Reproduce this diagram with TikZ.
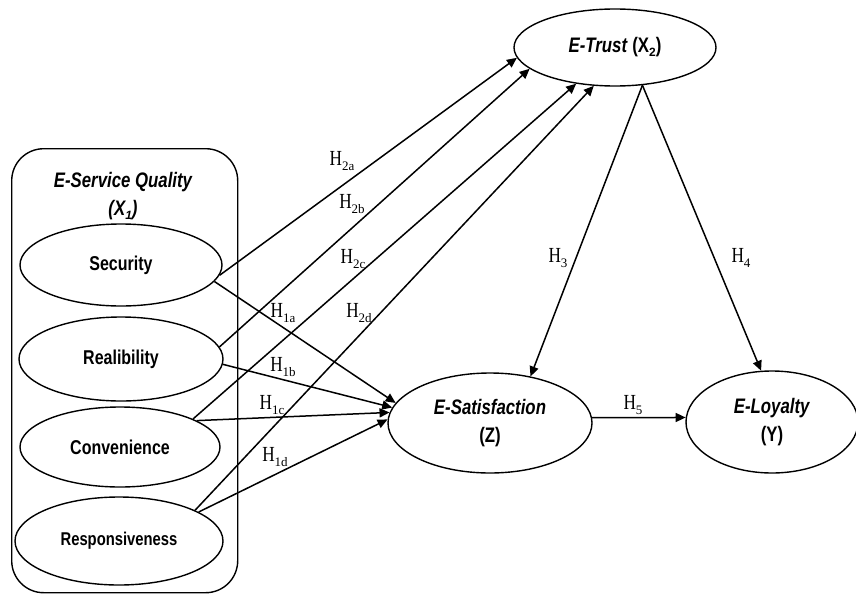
\documentclass[tikz,border=0pt]{standalone}
\usepackage{fontspec}
\setmainfont{Liberation Serif}[FakeStretch=0.8]
\newfontfamily\sansn{Liberation Sans}[FakeStretch=0.8]
\newfontfamily\subser{Liberation Serif}
\newfontfamily\subsans{Liberation Sans}
\usetikzlibrary{shapes.geometric,arrows.meta}
\newcommand{\hyplab}[1]{H\raisebox{-5pt}{\subser\fontsize{13}{13}\selectfont #1}}
\newcommand{\sanssub}[1]{\raisebox{-4pt}{\subsans\bfseries\fontsize{12}{12}\selectfont #1}}
\newcommand{\sanssubit}[1]{\raisebox{-4pt}{\subsans\bfseries\itshape\fontsize{12}{12}\selectfont #1}}
\tikzset{
  latent/.style={ellipse, draw, line width=1.4pt, inner sep=0pt, align=center,
    font=\sansn\bfseries\fontsize{21}{28}\selectfont},
  indic/.style={ellipse, draw, line width=1.4pt, inner sep=0pt, align=center,
    font=\sansn\bfseries\fontsize{20}{24}\selectfont},
  arr/.style={line width=1.5pt, -{Triangle[length=10pt,width=9pt]}},
  hlab/.style={font=\fontsize{21.5}{21.5}\selectfont, inner sep=0pt},
  ttl/.style={font=\sansn\bfseries\itshape\fontsize{21}{28}\selectfont, inner sep=0pt}
}
\begin{document}
\begin{tikzpicture}[x=1pt,y=-1pt]
\useasboundingbox (0,0) rectangle (856,594);
% container
\node[draw, line width=1.4pt, rounded corners=32pt, minimum width=226pt, minimum height=444pt,
  anchor=north west, inner sep=0pt] (esq) at (11,148) {};
\node[ttl] (esqt) at (123,182) {E-Service Quality};
\node[ttl] (esqx) at (123,210) {(X\sanssubit{1})};
% indicators
\node[indic, minimum width=202pt, minimum height=82pt] (sec) at (121,265) {Security};
\node[indic, minimum width=204pt, minimum height=84pt] (rel) at (121,359) {Realibility};
\node[indic, minimum width=200pt, minimum height=80pt] (con) at (120,447) {Convenience};
\node[indic, minimum width=208pt, minimum height=88pt, font=\sansn\bfseries\fontsize{18.5}{22}\selectfont] (res) at (119,541) {Responsiveness};
% constructs
\node[latent, minimum width=202pt, minimum height=77pt] (et) at (615,47.5) {\textit{E-Trust} (X\sanssub{2})};
\node[latent, minimum width=204pt, minimum height=100pt] (es) at (490,423) {\textit{E-Satisfaction}\\(Z)};
\node[latent, minimum width=172pt, minimum height=102pt] (el) at (772,422) {\textit{E-Loyalty}\\(Y)};
% arrows to E-Trust
\draw[arr] (sec.-6) -- (et.186);
\draw[arr] (rel.7) -- (et.194);
\draw[arr] (con.21) -- (et.223);
\draw[arr] (res.22) -- (et.241);
% arrows to E-Satisfaction
\draw[arr] (sec.-10) -- (es.168);
\draw[arr] (rel.-3) -- (es.171.6);
\draw[arr] (con.19) -- (es.174.4);
\draw[arr] (res.20) -- (es.178.3);
% structural
\draw[arr] (et.306) -- (es.49);
\draw[arr] (et.306) -- (el.102);
\draw[arr] (es.3) -- (el.177.3);
% labels
\node[hlab] (h2a) at (342,161) {\hyplab{2a}};
\node[hlab] (h2b) at (352,204) {\hyplab{2b}};
\node[hlab] (h2c) at (353,259) {\hyplab{2c}};
\node[hlab] (h2d) at (359,313) {\hyplab{2d}};
\node[hlab] (h1a) at (283,313) {\hyplab{1a}};
\node[hlab] (h1b) at (283,367) {\hyplab{1b}};
\node[hlab] (h1c) at (272,405) {\hyplab{1c}};
\node[hlab] (h1d) at (275,457) {\hyplab{1d}};
\node[hlab] (h3) at (558,258) {\hyplab{3}};
\node[hlab] (h4) at (741,258) {\hyplab{4}};
\node[hlab] (h5) at (633,405) {\hyplab{5}};
\end{tikzpicture}
\end{document}
